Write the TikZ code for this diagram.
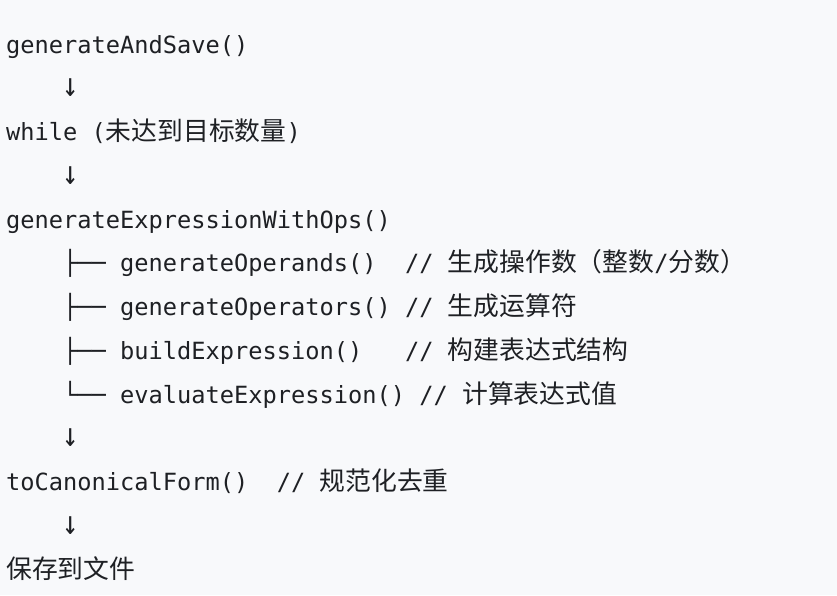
\documentclass[tikz,border=0pt]{standalone}
\usepackage{fontspec}
\setmonofont{DejaVu Sans Mono}
\newfontfamily\zhfont{Noto Sans CJK SC}
\definecolor{codebg}{HTML}{F8F9FB}
\definecolor{codeink}{HTML}{1E2024}
\newcommand{\codefont}{\ttfamily\fontsize{23.67pt}{28pt}\selectfont}
\newcommand{\zh}[1]{{\zhfont\fontsize{25.8pt}{30pt}\selectfont #1}}
\newcommand{\darr}{\makebox[14.25pt]{\scalebox{1.15}[1.4]{↓}}}

\begin{document}
\begin{tikzpicture}[x=1pt,y=-1pt]

    \tikzset{
      codeline/.style={
        anchor=base west,
        inner sep=0pt,
        font=\codefont,
        text=codeink,
      },
    }
    \fill[codebg] (0,0) rectangle (837,595);
    \useasboundingbox (0,0) rectangle (837,595);
	\node[codeline] (save)     at (6,53)    {generateAndSave()};
	\node[codeline] (down1)    at (6,96.75) {~~~~\darr};
	\node[codeline] (loop)     at (6,140.5) {while~(\zh{未达到目标数量})};
	\node[codeline] (down2)    at (6,184.25) {~~~~\darr};
	\node[codeline] (genexpr)  at (6,228)   {generateExpressionWithOps()};
	\node[codeline] (operands) at (6,271.75) {~~~~├──~generateOperands()~~//~\zh{生成操作数（整数}/\zh{分数）}};
	\node[codeline] (operators) at (6,315.5) {~~~~├──~generateOperators()~//~\zh{生成运算符}};
	\node[codeline] (build)    at (6,359.25) {~~~~├──~buildExpression()~~~//~\zh{构建表达式结构}};
	\node[codeline] (evaluate) at (6,403)   {~~~~└──~evaluateExpression()~//~\zh{计算表达式值}};
	\node[codeline] (down3)    at (6,446.75) {~~~~\darr};
	\node[codeline] (canon)    at (6,490.5) {toCanonicalForm()~~//~\zh{规范化去重}};
	\node[codeline] (down4)    at (6,534.25) {~~~~\darr};
	\node[codeline] (file)     at (6,578)   {\zh{保存到文件}};

\end{tikzpicture}
\end{document}
